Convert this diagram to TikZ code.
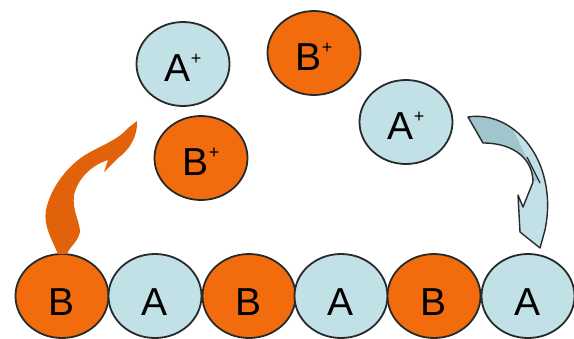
\documentclass[tikz,border=0pt]{standalone}
\usepackage{fontspec}
\setmainfont{Liberation Sans}
\usetikzlibrary{shapes.geometric}
\definecolor{orng}{RGB}{242,108,14}
\definecolor{orngdk}{RGB}{226,98,12}
\definecolor{lblue}{RGB}{194,225,231}
\definecolor{dblue}{RGB}{160,197,204}
\definecolor{edgec}{RGB}{38,42,42}
\newcommand\plussup{\raisebox{0.8ex}{\fontsize{18}{18}\selectfont +}}
\tikzset{
  ion/.style={ellipse, draw=edgec, line width=1.8pt, minimum width=93pt,
    minimum height=84pt, inner sep=0pt, text height=34pt, text depth=0pt,
    font=\fontsize{39}{39}\selectfont},
  aion/.style={ion, fill=lblue},
  bion/.style={ion, fill=orng},
  rowion/.style={text height=38pt},
}
\begin{document}
\begin{tikzpicture}[x=1pt,y=-1pt]
\useasboundingbox (0,0) rectangle (574,338);
% bottom row
\node[bion, rowion] (b1) at (62,296) {B};
\node[aion, rowion] (a1) at (155,296) {A};
\node[bion, rowion] (b2) at (249,296) {B};
\node[aion, rowion] (a2) at (341,296) {A};
\node[bion, rowion] (b3) at (434,296) {B};
\node[aion, rowion] (a3) at (528,296) {A};
% free ions
\node[aion] (ap1) at (183,64) {A\plussup};
\node[bion] (bp1) at (314,53) {B\plussup};
\node[aion] (ap2) at (406,122) {A\plussup};
\node[bion] (bp2) at (201,158) {B\plussup};
% orange curved arrow
\fill[orngdk] (58,254) .. controls (52,240) and (43,225) .. (46,210)
  .. controls (50,190) and (65,168) .. (85,155)
  .. controls (100,146) and (118,140) .. (128,128)
  -- (137,121)
  .. controls (138,135) and (130,150) .. (118,158)
  -- (104,172) -- (108,160)
  .. controls (92,165) and (78,178) .. (74,195)
  .. controls (72,210) and (80,222) .. (80,232)
  .. controls (78,242) and (70,246) .. (67,254) -- cycle;
% blue curved arrow
\def\bluearrow{(468,117) .. controls (500,112) and (530,135) .. (542,170)
  .. controls (550,195) and (548,215) .. (545,230)
  -- (540,248) -- (520,232) -- (518,195) -- (523,207) -- (533,182)
  .. controls (533,160) and (515,143) .. (483,143) -- cycle}
\fill[lblue] \bluearrow;
\begin{scope}
  \clip \bluearrow;
  \fill[dblue] (460,100) -- (498,100) -- (538,180) -- (520,185) -- (460,160) -- cycle;
\end{scope}
\draw[edgec, line width=1.4pt, line join=round] \bluearrow;
\draw[edgec, line width=1.2pt] (527,157) -- (540,183);
\end{tikzpicture}
\end{document}
